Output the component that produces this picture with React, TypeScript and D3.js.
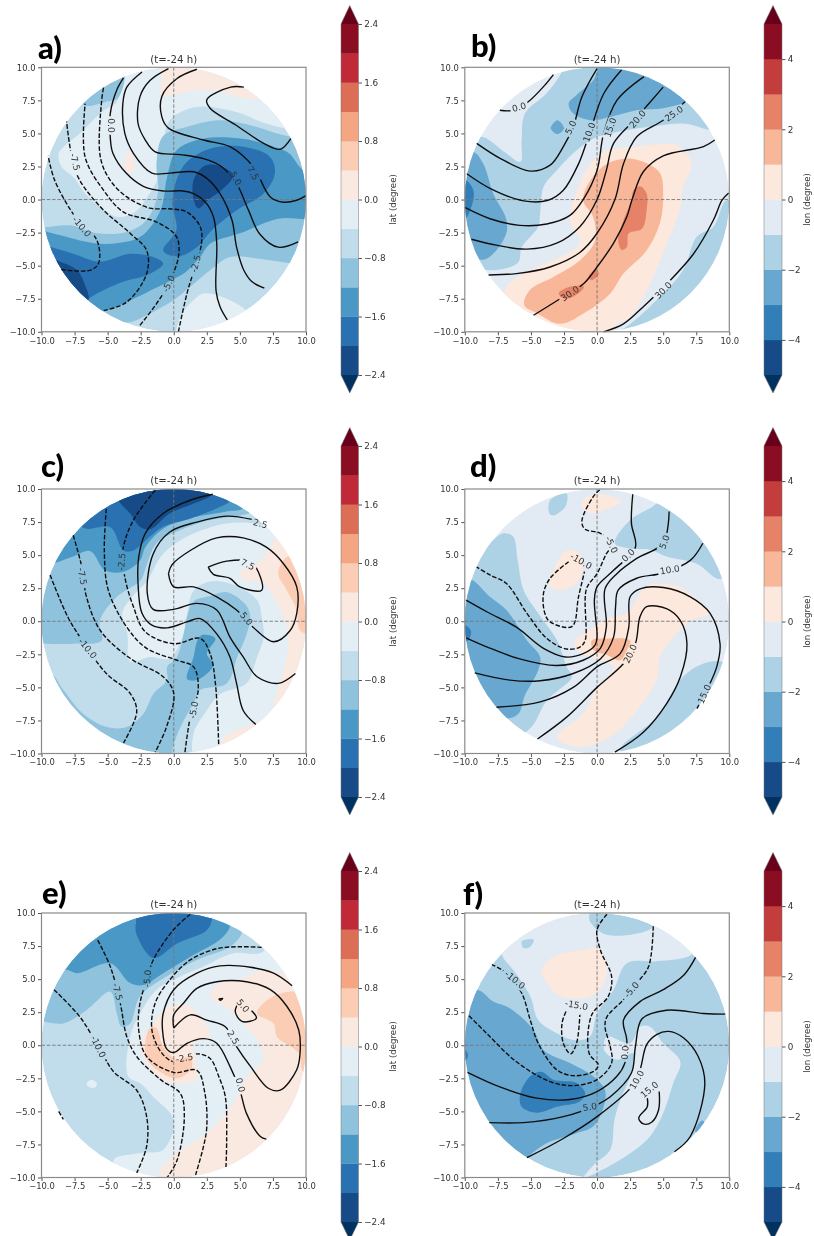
import React, { useEffect, useRef } from 'react';
import * as d3 from 'd3';

type Pt = [number, number];
type Fill = [number, Pt[]];
type Curve = [number, Pt[]];
type Label = [string, number, number, number];

// colour levels
const latLevels = [-2.4, -2.0, -1.6, -1.2, -0.8, -0.4, 0, 0.4, 0.8, 1.2, 1.6, 2.0, 2.4];
const latColors = ['#134b87', '#2a71b2', '#4a98c5', '#8fc2dd', '#c1ddec', '#e4eef5', '#f9e9e1', '#fccdb5', '#f4a683', '#dc6e57', '#c02b38', '#8a0b24'];
const lonLevels = [-5, -4, -3, -2, -1, 0, 1, 2, 3, 4, 5];
const lonColors = ['#134b87', '#337eb8', '#67a8d0', '#add1e5', '#e2ebf4', '#fce8dc', '#f8b799', '#e58267', '#c43c3c', '#8a0b24'];
const latTicks = [-2.4, -1.6, -0.8, 0, 0.8, 1.6, 2.4];
const lonTicks = [-4, -2, 0, 2, 4];
const axisTicks = [-10, -7.5, -5, -2.5, 0, 2.5, 5, 7.5, 10];

// panel a
const aBase = -0.6;
const aFill: Fill[] = [
  [-0.2, [[-3.8, 9.15], [-4.3, 7.4], [-5.2, 6.8], [-6.1, 6], [-7.1, 5], [-8.1, 4.2], [-8.7, 3.5], [-8.5, 2.5], [-7.6, 1.7], [-6.7, 0.45], [-5.6, -0.55], [-4.3, -1.3], [-3, -1], [-2, 0.2], [-1.15, 1.7], [-0.8, 4.2], [-0.3, 6], [1.7, 7], [4.8, 6.6], [6.8, 5.8], [8.8, 5.3], [11, 5], [8, 11], [-3, 11]]],
  [-0.2, [[0.3, -10.5], [0.5, -8.9], [1.5, -7.6], [2.25, -7.1], [4, -7.5], [5.5, -8.4], [7, -10.5]]],
  [0.2, [[-0.9, 11], [-0.9, 9.4], [-0.9, 7.8], [0.25, 8], [2.75, 8.3], [5.5, 7.65], [6.5, 7.65], [8, 9], [6, 11]]],
  [0.2, [[-3.7, 2.3], [-3.4, 3.6], [-3.1, 3.3], [-3.1, 2]]],
  [-1.0, [[-7.5, 8], [-6.7, 7.1], [-5.1, 7.4], [-4.3, 7.6], [-3.7, 9.2], [-4, 10.5], [-7, 9]]],
  [-1.0, [[-11, -2], [-9.9, -2.1], [-7.85, -1.95], [-5.8, -2.55], [-3.55, -2.45], [-2.05, -1.55], [-1.2, 0.5], [-1.3, 2.8], [-0.8, 4.8], [1, 5.5], [3.4, 6], [5.5, 5.7], [7.8, 5], [9, 4.7], [11, 4], [11, -4.85], [9.3, -4.85], [6.3, -4.45], [4.25, -4.35], [2.75, -5.35], [1.25, -6.6], [0, -7.6], [-2.05, -8.75], [-3.5, -9.3], [-4.8, -8.9], [-8, -8], [-11, -5]]],
  [-1.4, [[-11, -2.2], [-9, -2.6], [-6, -3.3], [-4.3, -3.3], [-2.5, -2.8], [-1, -0.8], [-0.5, 1.7], [0.2, 3.7], [2.2, 4.6], [5.2, 4.6], [7.2, 4.1], [8.7, 3.5], [9.5, 2.5], [11, 1], [11, -1.3], [7.9, -1.45], [5, -2.55], [2.75, -3.35], [2, -4.35], [1, -5.4], [0.2, -5.9], [-2, -7], [-3.5, -7.7], [-5.3, -8.4], [-8, -8], [-11, -5]]],
  [-1.8, [[-0.8, -3.85], [0.3, -4.3], [1.75, -3.6], [2.9, -2.3], [4.75, -0.8], [6.8, 0.45], [7.65, 2], [7.3, 3.2], [5.3, 4], [2.75, 3.85], [1, 2.85], [0.2, 1.45], [-0.1, -0.3], [0.2, -2.3]]],
  [-1.8, [[-11, -3.2], [-10, -3.4], [-7.6, -4.1], [-5.6, -4.7], [-3.3, -4.1], [-1.55, -4.35], [-0.8, -4.85], [-2, -5.7], [-3.8, -6.2], [-5.8, -7.1], [-6.6, -7.6], [-8, -8.5], [-11, -6]]],
  [-2.2, [[1.5, 1.45], [2.25, 2.5], [3.25, 2.6], [4.5, 1.85], [3.6, 0.7], [2.75, 0.1], [1.85, -0.65], [1.5, 0]]],
  [-2.2, [[-9, -4.6], [-8.6, -4.7], [-7.3, -5.35], [-6.7, -6.5], [-6.45, -7.6], [-7.5, -8.5], [-9.5, -7]]],
];
const aLines: Curve[] = [
  [0, [[-3.8, 9.2], [-4.3, 8.3], [-4.8, 6.5], [-4.8, 4.7], [-4.6, 3.5], [-3.6, 2], [-2.3, 1], [-0.8, 0.65], [0.7, 0.65], [1.5, 0.45], [2.4, -0.2], [3, -1.3], [3.25, -3.3], [3.2, -6.9], [3.5, -8.1], [4.05, -9.1]]],
  [2.5, [[-2.4, 9.65], [-3.55, 8.5], [-3.85, 7.25], [-3.7, 5], [-3.05, 3.5], [-1.65, 2], [-0.3, 2], [1.5, 2.1], [2.5, 1.6], [3.5, 0.45], [4.4, -1.55], [4.75, -3.6], [5.3, -5.35], [5.9, -6.2], [6.85, -6.7]]],
  [5, [[-0.4, 9.9], [-1.8, 9], [-2.55, 7.8], [-2.7, 5.75], [-2.15, 4.5], [-1.4, 3.6], [0.5, 3.4], [2.25, 3.1], [3.6, 2.5], [4.75, 1.2], [5.65, -0.8], [6.5, -2.6], [7.9, -3.6], [9.4, -3.2]]],
  [7.5, [[1.75, 9.85], [0.25, 9.15], [-0.9, 7.8], [-0.9, 6.25], [-0.4, 5.4], [2.25, 4.5], [4.25, 4], [6, 2.5], [7.3, 0.2], [8.3, -0.2], [9.3, -0.05], [10, 0.3]]],
  [10, [[5.3, 8.5], [4.3, 8.5], [2.5, 7.55], [2.75, 6.9], [4.75, 5.6], [6.8, 4.25], [8.05, 3.8], [8.85, 4.6]]],
  [-2.5, [[0.35, -10], [1, -7.1], [1.6, -5.1], [2.1, -3.3], [2, -2.05], [1, -0.95], [-0.3, -0.7], [-1.8, -0.65], [-3.55, 0.2], [-4.8, 1.45], [-5.55, 3.2], [-5.45, 7.5], [-5.3, 8.5]]],
  [-5, [[-2.55, -9.5], [-0.8, -7.1], [0.35, -4.35], [0.2, -2.8], [-1.3, -1.7], [-3.8, -0.95], [-5.3, 0.7], [-6.7, 3.2], [-6.7, 7.25]]],
  [-7.5, [[-5.3, -8.4], [-3.55, -7.75], [-2.05, -5.6], [-2.05, -3.85], [-3.3, -2.55], [-5.55, -0.55], [-7.35, 1.95], [-8.1, 5.9]]],
  [-10, [[-8.5, -5.3], [-6.35, -5.35], [-5.7, -4.85], [-5.8, -3.1], [-7.45, -1.3], [-9, 1.45], [-9.5, 3.3]]],
];
const aLabels: Label[] = [
  ['0.0', -4.75, 5.6, 90], ['-7.5', -7.45, 2.85, 75], ['-10.0', -6.95, -2.05, 50], ['-5.0', -0.4, -6.35, -65],
  ['-2.5', 1.65, -4.85, -75], ['5.0', 4.7, 1.6, 60], ['7.5', 6, 2, 60],
];

// panel b
const bBase = -0.5;
const bFill: Fill[] = [
  [-1.5, [[-8.85, 4.75], [-7, 3.6], [-5.8, 2.85], [-5.7, 4.5], [-5.45, 6.5], [-3.85, 8], [-2.8, 9.4], [-2, 11], [9, 11], [11, 6], [8.9, 5.25], [6.55, 5.75], [4, 5.5], [1.5, 5.1], [-0.3, 4.6], [-1.8, 3.5], [-3.05, 2.2], [-4.05, 0.95], [-4.3, -1.05], [-4.45, -2.05], [-5.7, -3.6], [-6, -4.8], [-8.6, -5.3], [-11, -4], [-11, 3]]],
  [-1.5, [[0.5, -10.5], [2.25, -9.6], [4.5, -7.6], [6.5, -5.35], [7.55, -2.8], [8.8, -2.05], [9.8, -0.05], [11, -1], [11, -11]]],
  [-2.5, [[-2.15, 7.25], [-1.55, 7.9], [-0.3, 9], [0, 9.65], [0.5, 10.5], [5, 10], [7.5, 8], [6.65, 7.35], [5, 6.9], [3, 6.75], [1, 6.25], [-0.5, 6], [-1.8, 6.5]]],
  [-2.5, [[-3.5, 5.4], [-3, 6], [-2.5, 5.4], [-3, 4.95]]],
  [-2.5, [[-9.35, 3.6], [-8.6, 2.7], [-7.85, 0.45], [-6.85, -1.55], [-6.95, -2.8], [-8.6, -4.55], [-11, -3], [-11, 3]]],
  [-3.5, [[-10, 1.45], [-9.35, 0.7], [-9.5, -0.55], [-10, -1.45], [-11, 0]]],
  [0.5, [[-7, -6.85], [-5.55, -5.6], [-2.8, -4.35], [-1.3, -3.3], [-2.05, -1.55], [-1.5, 0.7], [-0.5, 2.7], [0.75, 3.7], [3, 4], [6, 4.1], [7.15, 2.7], [6.5, 0.95], [6.3, -0.55], [5.3, -3.3], [4, -6.35], [2.5, -8.9], [1.5, -9.4], [0.5, -10.5], [-3, -10.5], [-7, -9]]],
  [1.5, [[-5.5, -8], [-5.1, -6.85], [-3.3, -5.85], [-1.3, -4.6], [-0.15, -3.1], [-0.3, -1.3], [-1.05, -0.05], [-0.5, 1.45], [0.75, 2.7], [2.25, 3.1], [3.5, 2.85], [4.75, 2], [5, 0.2], [4.75, -1.8], [3.75, -3.85], [2, -5.6], [1, -7.1], [-1, -8.6], [-2.8, -9.4], [-4.55, -8.6]]],
  [2.5, [[3.25, 1], [3.75, 0.45], [3.75, -0.8], [3.4, -2.2], [2.4, -2.55], [2.25, -3.6], [1.85, -3.8], [1.6, -2.95], [2, -1.55], [2.6, -0.05], [2.75, 0.7]]],
  [2.5, [[-0.65, -5.85], [-0.15, -5.35], [0.15, -5.6], [-0.4, -6.1]]],
  [2.5, [[-2.9, -7.1], [-2.05, -6.6], [-1, -6.6], [-1.4, -7.1], [-2.4, -7.5]]],
];
const bLines: Curve[] = [
  [0, [[-7.35, 6.75], [-6.35, 6.75], [-5.2, 7.4], [-3.95, 8.65], [-3.3, 9.45]]],
  [5, [[-9.1, 4.25], [-7.3, 3.1], [-5.05, 2.15], [-3.55, 2.6], [-2.55, 4], [-1.8, 5.5], [-1.15, 7.75], [0, 9.9]]],
  [10, [[-9.85, 1.95], [-8.1, 0.85], [-5.55, -0.1], [-3.7, -0.05], [-2.55, 0.7], [-1.4, 2.7], [-0.65, 4.75], [0.5, 8], [1.85, 9.8]]],
  [15, [[-10, -0.6], [-8.1, -1.45], [-5.85, -1.95], [-3.8, -1.85], [-2.05, -1.2], [-1.05, 0], [0, 2.2], [0.5, 5], [1.5, 7.5], [3.55, 9.3]]],
  [20, [[-9.5, -3], [-7.6, -3.45], [-5.3, -3.75], [-3.05, -3.3], [-1.3, -2.05], [0, 0], [0.7, 2.2], [1.25, 4.25], [2.9, 6.1], [5, 8.5]]],
  [25, [[-8.2, -5.7], [-6.1, -5.6], [-3.55, -5.1], [-1.3, -4], [0, -2.55], [1.35, 0], [2, 2.7], [3, 4.75], [5, 6], [6.65, 7.4]]],
  [30, [[-4.8, -8.75], [-2.55, -7.35], [-1, -6.35], [0, -5.1], [1.25, -3.3], [2.25, -1.3], [2.65, 0], [3.5, 2.1], [5, 3.3], [8.05, 4], [8.9, 4.5]]],
  [30, [[0.5, -10], [2, -9.4], [3.5, -8.1], [5.3, -6.35], [7.3, -4.1], [8.8, -1.55], [9.45, -0.05], [9.95, 0.5]]],
];
const bLabels: Label[] = [
  ['0.0', -5.9, 7, -15], ['5.0', -2, 5.45, -65], ['10.0', -0.6, 5.1, -70], ['15.0', 1, 5.45, -70],
  ['20.0', 3.05, 6.1, -50], ['25.0', 5.8, 6.5, -35], ['30.0', -2.05, -7.1, -35], ['30.0', 5, -6.85, -45],
];

// panel c
const cBase = -0.6;
const cFill: Fill[] = [
  [-1.0, [[-11, -1.7], [-9.85, -1.7], [-7.6, -1.7], [-5.45, -1.45], [-5.6, 0], [-4.3, 1.85], [-2.5, 3.1], [-2.1, 4.1], [-1.3, 5.9], [0.5, 6.9], [2.75, 7.65], [5.3, 8.05], [6.3, 8.5], [6, 11], [-11, 11]]],
  [-0.2, [[-3.9, 0.6], [-3, 2], [-2.05, 3], [-0.8, 5.1], [1, 6.4], [4, 7.4], [6.8, 7.25], [9, 6], [11, 4], [11, -6], [7.3, -11], [1.7, -10.5], [1.5, -8.5], [2.5, -6.75], [3.5, -5.5], [5.5, -4.7], [6.3, -2.7], [6.8, -1.2], [6.65, 0.3], [6.3, 1.6], [4.25, 2.85], [2.75, 3], [1.5, 2.3], [1, 0.5], [0.75, -0.95], [-0.3, -2.8], [-1.8, -2.7], [-3.3, -3.05], [-3.5, -1]]],
  [-1.0, [[-11, -5], [-9.35, -3.95], [-8.35, -5.2], [-6.85, -7], [-5.05, -8], [-3.55, -8], [-2.3, -7], [-1.55, -5.5], [-0.5, -4.45], [-0.5, -3.45], [0.2, -2.8], [0.75, -0.95], [1, 0.3], [1.5, 1.5], [2.75, 1.9], [4, 2.2], [5.4, 1.3], [5.8, 0.3], [5.5, -1], [4.8, -2.7], [4, -4.7], [2, -5.2], [1.5, -6.2], [0.75, -7.5], [0, -9.25], [-0.5, -11], [-6, -11]]],
  [-1.4, [[-11, 4], [-9, 4.4], [-7.6, 4.9], [-6.3, 5.3], [-5.2, 3.85], [-3.8, 3.75], [-2.55, 4.6], [-2.15, 5.6], [-0.8, 7], [1.25, 7.8], [4, 8.3], [5.3, 8.6], [5.5, 11], [-11, 11]]],
  [-1.8, [[-6.9, 7.1], [-4.8, 7.1], [-3.8, 5.35], [-3.05, 5.35], [-1.8, 6.4], [-0.8, 7.15], [1.25, 7.75], [3.5, 8.65], [4.2, 9.1], [4, 11], [-8, 11]]],
  [-2.2, [[-4.2, 9.15], [-3.3, 8.15], [-2.55, 7.15], [-1.8, 6.95], [-0.3, 8.15], [1.5, 8.9], [2.9, 9.65], [2.5, 11], [-5, 11]]],
  [-1.4, [[2.1, -1.05], [3.15, -1.3], [2.5, -2.45], [3, -3.3], [1.75, -4.45], [1, -4.35], [1.5, -2.7], [1.75, -1.55]]],
  [0.2, [[5, 3.7], [6.3, 4.35], [7.3, 5.6], [7.8, 6.65], [8, 8], [11, 7], [11, -8], [5, -11], [3.6, -9.25], [4, -8.6], [4.75, -8.25], [6.3, -7.6], [7.3, -6.75], [8, -4.7], [8.55, -2.7], [8.55, -0.45], [7.8, 1.35], [6.8, 2.85], [5.25, 3.2]]],
  [0.6, [[8.55, 4.85], [7.9, 3.6], [8.4, 2.6], [9.3, 0.85], [9.55, -0.7], [11, -1], [11, 5]]],
];
const cLines: Curve[] = [
  [0, [[2.95, 9.6], [1.25, 9.15], [-0.8, 8.15], [-2.15, 6.65], [-2.65, 4.85], [-2.7, 2.85], [-2.4, 0.6], [-1.65, -0.3], [-0.5, -0.5], [1, -0.05], [2, 0.2], [3.25, -0.95], [4.25, -2.7], [4.75, -4.7], [5.25, -6.75], [6.2, -7.8]]],
  [2.5, [[5.9, 7.7], [4, 7.95], [1.75, 7.5], [-0.3, 6.75], [-1.55, 5.1], [-2, 2.1], [-1.55, 0.9], [0, 0.9], [1.75, 1.35], [3.25, 0.85], [4.25, -1.2], [5.25, -2.7], [6.3, -4.2], [7.9, -4.7], [9.2, -3.95]]],
  [5, [[-0.4, 3.6], [-0.15, 4.25], [1.25, 5.35], [3.25, 6.3], [5.25, 6.3], [7, 5.6], [8.3, 4.35], [9.3, 2.6], [9.3, 0.6], [8.8, -0.7], [7.55, -1.55], [6, -0.45], [4.75, 0.85], [3.25, 1.85], [1.5, 2.6], [0, 2.6], [-0.4, 3.6]]],
  [7.5, [[2.6, 4.1], [4, 4.55], [5.8, 4.5], [6.55, 3.35], [6.65, 2.35], [5, 2.6], [4.25, 3.25], [3, 3.55], [2.6, 4.1]]],
  [-2.5, [[-1.4, 9.9], [-3.05, 7.65], [-3.85, 5.35], [-3.7, 3.35], [-3.05, 1.1], [-2.15, -0.8], [0, -1.7], [2, -1.3], [2.75, -2.45], [3.15, -4.7], [3.4, -9.4]]],
  [-5, [[-5.1, 8.5], [-5.25, 5.35], [-4.95, 2.35], [-3.55, -0.45], [-2.05, -2.05], [0.25, -2.95], [1.5, -3.45], [1.85, -5.2], [1.25, -7.25], [0.85, -9.9]]],
  [-7.5, [[-7.6, 6.5], [-6.95, 4.1], [-6.6, 1.85], [-5.55, -0.7], [-3.3, -2.8], [-0.8, -4.2], [0, -5.45], [-0.55, -8], [-1.4, -9.9]]],
  [-10, [[-9.35, 3.5], [-8, 0.3], [-6.85, -1.55], [-5.1, -3.95], [-3.3, -5.45], [-2.8, -6.85], [-3.8, -9.2]]],
];
const cLabels: Label[] = [
  ['2.5', 6.55, 7.4, 15], ['7.5', 5.6, 4.3, 25], ['5.0', 5.5, 0.2, 50], ['-2.5', -3.95, 4.5, -85],
  ['-7.5', -6.9, 3.4, 80], ['-10.0', -6.5, -2.05, 50], ['-5.0', 1.5, -6.7, -80],
];

// panel d
const dBase = -0.5;
const dFill: Fill[] = [
  [-1.5, [[-8.1, 5.9], [-7.1, 6.65], [-6.35, 6.4], [-6, 4.6], [-5.55, 2.35], [-4.45, 0.6], [-3, -1.5], [-2.3, -3.45], [-1.9, -4.2], [-3.8, -6], [-5.05, -8.1], [-7, -9], [-11, -5], [-11, 3]]],
  [-1.5, [[1.35, 5.9], [2.5, 7.65], [4.5, 8.9], [6, 11], [11, 5], [9.3, 3.2], [7.55, 4.35], [5.25, 4.9], [4, 5.4], [2.5, 5.5]]],
  [-1.5, [[-3.6, 8.15], [-3.55, 9.15], [-2.3, 9.65], [-2.4, 8.65], [-3.3, 8]]],
  [-1.5, [[1.75, -9.8], [4.5, -7.25], [6.5, -4.2], [8.05, -3.2], [9.45, -3.05], [11, -4], [5, -11]]],
  [-2.5, [[-9.6, 3.2], [-8.1, 1.85], [-6.85, 0.85], [-5.3, -1.45], [-4.3, -2.7], [-4.45, -3.7], [-5.45, -5.6], [-5.95, -7], [-6.85, -7.35], [-11, -6], [-11, 3]]],
  [-3.5, [[-10, -0.3], [-9.55, -0.7], [-9.6, -1.2], [-9.9, -1.55], [-11, -0.9]]],
  [0.5, [[-1.15, 8.65], [-0.8, 9.4], [0.75, 9.55], [1.85, 9], [0.75, 8.5], [-0.5, 8.15]]],
  [0.5, [[-3.55, 2.6], [-3.3, 3.85], [-2.3, 5.35], [-1.4, 5.1], [-1.05, 4.1], [-1.55, 2.85], [-2.8, 2.35]]],
  [0.5, [[-1.65, -1.45], [-0.8, -0.8], [0.5, 0.1], [2.25, 0.6], [3.1, 1.85], [3.75, 2.7], [6, 2.7], [7.3, 1.85], [8.55, 0.6], [7.05, 0.05], [5.8, -1.2], [4.75, -2.7], [4.5, -4.45], [3, -6.75], [1, -8.75], [-1.55, -9.5], [-3.05, -8.75], [-1.05, -7], [0, -5], [1.25, -3.45], [-0.5, -2.7], [-1.55, -2.2]]],
  [1.5, [[-0.4, -1.45], [0.75, -1.3], [2.5, -1.45], [2.25, -2.2], [1.75, -2.95], [0.75, -2.55], [-0.25, -2.2]]],
];
const dLines: Curve[] = [
  [0, [[2.7, 9.6], [2.6, 7.4], [2.9, 5.6], [1.25, 3.85], [0, 2.6], [-0.2, 1.6], [0, -1.2], [-0.15, -1.8], [-1.05, -2.45], [-2.4, -2.7], [-4.05, -2.05], [-6.1, -0.45], [-8.3, 0.7], [-9.9, 1.6]]],
  [5, [[5.45, 8.3], [5, 5.9], [3, 4.75], [1.5, 3.6], [0.6, 2.45], [0.7, -0.45], [0.25, -2.05], [-1.05, -2.95], [-3.05, -3.35], [-5.85, -2.85], [-8.3, -1.95], [-9.9, -1.25]]],
  [10, [[8, 5.9], [7.05, 4.6], [5, 3.65], [3, 3.25], [1.6, 2.35], [1.4, 1.1], [1.25, -1.2], [0.25, -2.85], [-1.8, -3.95], [-4.3, -4.5], [-6.6, -4.45], [-9.25, -3.9]]],
  [15, [[-7.6, -6.5], [-4.3, -6.1], [-1.8, -5], [0, -3.45], [1.75, -2.45], [2.4, -0.45], [2.5, 1.85], [3.25, 2.45], [5, 2.55], [7.05, 1.85], [8.55, 0.6], [9.3, -1.7], [9.05, -3.45], [8.3, -5.2], [7.55, -6.6]]],
  [20, [[-4.5, -8.9], [-2.3, -7.25], [0, -5], [2, -3.2], [2.9, -1.7], [3.25, 0.35], [3.75, 1.1], [5.25, 0.95], [6.3, 0.05], [6.8, -1.7], [6.3, -4.2], [5.25, -6.25], [3.5, -8.4], [1.35, -9.9]]],
  [-5, [[0.2, 9.95], [-0.3, 9.4], [-1.15, 7.55], [-0.9, 6.95], [0.25, 6.65], [1.1, 5.75], [0.7, 5.1], [0, 3.6], [-0.8, 2.45], [-0.9, -1.45], [-1.3, -1.95], [-2.3, -2.1], [-3.8, -1.3], [-5.3, 0.6], [-6.85, 2.85], [-8.1, 3.5], [-9.1, 4.1]]],
  [-10, [[-2.15, 4.5], [-3.55, 3.25], [-4.05, 2.1], [-3.95, 0.6], [-3.55, -0.05], [-1.9, -0.4], [-1.4, 1.85], [-0.95, 3.75]]],
];
const dLabels: Label[] = [
  ['-5.0', 1.1, 5.8, 65], ['0.0', 2.35, 5, -45], ['5.0', 5.1, 6, -70], ['10.0', 5.5, 3.9, -10],
  ['-10.0', -1.2, 4.55, 30], ['20.0', 2.5, -2.45, -65], ['15.0', 8.1, -5.5, -65],
];

// panel e
const eBase = -0.6;
const eFill: Fill[] = [
  [-0.2, [[-3.45, -2.35], [-3.3, 0.65], [-2.55, 2.4], [-1.3, 4.2], [0.5, 5.2], [2.25, 5.95], [4.5, 6.95], [6.5, 6.95], [8, 8], [11, 5], [11, -11], [-3, -11], [-4.55, -8.7], [-2.55, -8.15], [-0.8, -7.9], [0, -5.65], [-1.55, -3.9], [-2.5, -2.9]]],
  [-0.2, [[-6.6, -2.9], [-6.2, -2.6], [-5.8, -2.9], [-5.95, -3.2], [-6.4, -3.15]]],
  [-1.0, [[-9.85, 1.8], [-8.35, 1.65], [-6.6, 2.65], [-4.8, 4.05], [-4.3, 2.4], [-3.95, 1.4], [-3.3, 1.65], [-2.55, 3.7], [-0.55, 5.2], [1.75, 6.45], [4.25, 7.45], [5.15, 8.5], [5, 11], [-11, 11], [-11, 2]]],
  [-1.4, [[-9, 5.6], [-8.1, 5.7], [-7.3, 5.45], [-4.8, 6.2], [-3.3, 4.7], [-2.3, 4.55], [-0.8, 5.45], [1.25, 6.7], [3.5, 8], [4.25, 9], [4, 11], [-9, 11]]],
  [-1.8, [[-2.85, 9.5], [-2.85, 8.5], [-1.55, 6.6], [0.25, 7.7], [2.5, 8.7], [2.9, 9.5], [3, 11], [-3, 11]]],
  [0.2, [[-1.15, -9.7], [0.25, -8.15], [2.5, -6.65], [4.5, -4.4], [5.5, -2.4], [6.8, -1.1], [6.3, 0.4], [5.25, 1.65], [4.25, 2.65], [2.75, 3.7], [3.5, 4.7], [5, 5], [6.8, 5.7], [9.05, 5.2], [11, 5], [11, -11], [-1, -11]]],
  [0.2, [[-2.5, 0.2], [-1.55, 1.65], [-0.55, 2.8], [1, 3.05], [2.5, 1.4], [2.75, 0.65], [1.5, 0.15], [1.75, -1.6], [1.75, -2.6], [0.2, -2.9], [-1.3, -2.35], [-2.3, -0.85]]],
  [0.6, [[-2.15, 0.15], [-1.8, 1.3], [-1.3, 1.3], [-0.8, -0.1], [0.25, -1.1], [1.25, -0.85], [1.35, -1.75], [0.25, -2.5], [-1.05, -2], [-2.05, -1]]],
  [0.6, [[6.3, 2.4], [7.05, 3.4], [9.05, 4.05], [11, 3], [11, -2], [9.8, -2], [9.45, -0.6], [7.8, 0.65], [7.55, 1.65]]],
];
const eLines: Curve[] = [
  [0, [[8.95, 4.5], [7.55, 5.45], [5.8, 5.9], [3.5, 6], [1.75, 5.45], [0, 4.2], [-0.8, 2.4], [-0.85, 1.15], [-0.55, -0.25], [0, -0.55], [1, 0.15], [2.25, 0.5], [3.25, 0.15], [4.25, -1.6], [5, -3.4], [5.5, -5.15], [6.55, -6.9], [7, -7.1]]],
  [2.5, [[0, 1.3], [0, 2.3], [0.75, 3.2], [1.75, 4.3], [3.25, 4.8], [5.5, 4.8], [7.3, 4.2], [8.55, 2.95], [9.45, 1.15], [9.55, -0.6], [9.3, -1.85], [8.05, -3.4], [7.15, -3.25], [5.8, -1.6], [4.75, -0.1], [3.9, 1.4], [2.5, 1.9], [1.25, 2.3], [0, 1.3]]],
  [5, [[4.9, 3.2], [4.65, 2.55], [5.15, 1.8], [6.25, 2.05], [5.5, 2.95], [4.9, 3.2]]],
  [5, [[3.4, 3.5], [3.7, 3.55], [3.55, 3.4], [3.4, 3.5]]],
  [-2.5, [[6.65, 7.4], [5, 7.45], [3.25, 7.3], [1.25, 6.45], [-0.3, 4.95], [-1.4, 3.2], [-1.65, 1.15], [-0.9, -0.6], [0, -1.25], [0.8, -1], [1.75, -0.65], [2.75, -1], [3.4, -2.35], [3.9, -3.9], [4, -7.15], [3.95, -9.2]]],
  [-5, [[1.25, 9.9], [0, 8.75], [-1.55, 6.45], [-2, 5.05], [-2.55, 3.2], [-2.65, 1.15], [-2.05, -0.85], [0, -2.05], [1.75, -1.9], [2.35, -3.6], [2.5, -6.15], [2.25, -7.65], [1.65, -9.8]]],
  [-7.5, [[-5.75, 7.95], [-4.8, 5.95], [-4.05, 3.2], [-3.55, 0.65], [-2.8, -0.85], [-1, -2.6], [0.5, -3.65], [0.8, -5.4], [0.25, -8.7], [-0.5, -10]]],
  [-10, [[-9.05, 4.2], [-7.1, 2.15], [-5.55, -0.35], [-4.55, -2], [-2.8, -3.4], [-2.05, -5.4], [-2.05, -7.65], [-2.8, -9.65]]],
  [-10, [[-8.7, -5], [-8.35, -5.6]]],
];
const eLabels: Label[] = [
  ['5.0', 5.25, 3, 50], ['-2.5', 0.8, -0.95, -10], ['2.5', 4.5, 0.6, 60], ['0.0', 5.05, -3, 75],
  ['-5.0', -2, 5.05, -85], ['-7.5', -4.25, 4.05, 75], ['-10.0', -5.7, -0.1, 65],
];

// panel f
const fBase = -1.5;
const fFill: Fill[] = [
  [-0.5, [[-7.2, 6.85], [-6.35, 5.7], [-5.05, 3.7], [-4.45, 1.9], [-3.05, 0.9], [-1.8, 0.4], [-0.55, 0.65], [0, 2.4], [1.25, 4.2], [2.25, 6.2], [4.5, 6.35], [7.15, 6.85], [8, 8], [6, 9], [4.4, 9.3], [4, 8.75], [0.75, 8.35], [-0.55, 9.4], [-0.6, 11], [-8, 11]]],
  [-0.5, [[0.5, -0.1], [0.75, 0.65], [2.5, 0.15], [3.25, 1.4], [4, 1.4], [5, 0.15], [6.3, -1.25], [5.75, -2.9], [5, -5.15], [4, -6.9], [2, -8.5], [-1, -10], [-0.2, -9], [1, -7.9], [1.3, -5.7], [1.75, -4.15], [2.5, -2.35], [2.75, -0.6], [1.5, -1.1], [0.6, -0.5]]],
  [-1.5, [[-5.7, 7.85], [-4.8, 8], [-5.05, 7.45], [-5.55, 7.35]]],
  [-2.5, [[-9.1, 4.2], [-7.85, 3.3], [-6.6, 2.8], [-4.8, 1.15], [-4.05, -0.35], [-2.05, -1.35], [-0.3, -2.35], [0.6, -3.4], [0.5, -4.65], [-0.3, -6.15], [-1.55, -6.65], [-3.8, -7.4], [-5.3, -8.5], [-7, -10], [-11, -5], [-11, 3]]],
  [-2.5, [[7.4, -6.5], [7.9, -5.7], [8.1, -5.8], [7.7, -6.6]]],
  [-3.5, [[-5.8, -3.65], [-5.05, -2.35], [-4.2, -2], [-3.3, -2.6], [-1.55, -2.85], [-0.9, -3.65], [-1.3, -4.25], [-3.05, -4.65], [-4.55, -5.1], [-5.7, -4.65]]],
  [-3.5, [[-10, -0.35], [-9.75, -0.75], [-10, -1.2], [-11, -0.8]]],
  [0.5, [[-4.2, 5.7], [-3.3, 6.7], [-1.05, 7.2], [0, 7.35], [0.75, 5.95], [0.25, 4.2], [-1.05, 3.55], [-2.8, 3.7], [-3.8, 4.7]]],
];
const fLines: Curve[] = [
  [0, [[7.45, 6.65], [6.55, 5.3], [5, 4.2], [3.25, 3.3], [2, 1.9], [2.25, 0.4], [2.1, -1.35], [1.5, -2.35], [0, -3.5], [-2.05, -4.1], [-4.55, -4], [-7.35, -3.15], [-9.8, -2.05]]],
  [5, [[9.7, 2.35], [8.05, 2.4], [5.25, 2.65], [3.4, 2], [2.9, -0.1], [2.6, -2.1], [1, -3.9], [0, -4.5], [-2.55, -5.4], [-5.55, -5.85], [-8.15, -5.85]]],
  [10, [[5.85, -8.05], [7.05, -6.9], [8.15, -2.9], [7.65, -0.85], [6.55, 0.55], [5.4, 1.05], [4.5, 0.8], [3.75, 0.05], [3.25, -1.85], [2.6, -3.15], [0, -5.4], [-2.55, -7.05], [-5.3, -8.5]]],
  [15, [[3.8, -4], [3.8, -4.65], [3.15, -5.5], [3.5, -5.95], [4.15, -5.8], [4.65, -4.9], [4.7, -3.5]]],
  [-5, [[4.25, 9], [3.9, 5.95], [3, 4.7], [2, 3.45], [0.75, 2.15], [0.6, 1.4], [1, -0.1], [1.1, -1.35], [0, -2.6], [-1.8, -3.05], [-3.55, -2.75], [-6.1, -1.25], [-8.35, 0.9], [-9.75, 2.3]]],
  [-10, [[0.75, 9.9], [0, 8.75], [0.25, 7.2], [1.1, 5.2], [0.85, 3.7], [-0.4, 2.3], [-0.6, -0.6], [0.1, -1.5], [-0.3, -2], [-1.8, -2.3], [-3.05, -1.85], [-4.45, 0.15], [-5.05, 1.9], [-5.7, 3.95], [-6.85, 5.45], [-7.95, 6.1]]],
  [-15, [[-2.35, 2.55], [-2.65, 1.65], [-2.55, 0.15], [-2, -0.65], [-1.55, 0.15], [-1.3, 2.3]]],
];
const fLabels: Label[] = [
  ['-10.0', -6.2, 4.95, 40], ['-15.0', -1.55, 3.05, 10], ['-5.0', 2.6, 4.2, -50], ['0.0', 2.1, -0.55, -85],
  ['10.0', 3, -2.6, -60], ['15.0', 3.95, -3.35, -40], ['5.0', -0.55, -4.65, -10],
];

const AXIS_SIZE = 264.5;
const LEFT_X = 41.5;
const RIGHT_X = 464.8;
const ROW_Y = [67.3, 489, 913];
const BAR_OFFSET = [0, 422, 847];

const panels = [
  { id: 'a', letter: 'a)', x: LEFT_X, y: ROW_Y[0], lx: 38, ly: 59, kind: 'lat', base: aBase, fills: aFill, lines: aLines, labels: aLabels },
  { id: 'b', letter: 'b)', x: RIGHT_X, y: ROW_Y[0], lx: 471, ly: 57, kind: 'lon', base: bBase, fills: bFill, lines: bLines, labels: bLabels },
  { id: 'c', letter: 'c)', x: LEFT_X, y: ROW_Y[1], lx: 41, ly: 477, kind: 'lat', base: cBase, fills: cFill, lines: cLines, labels: cLabels },
  { id: 'd', letter: 'd)', x: RIGHT_X, y: ROW_Y[1], lx: 470, ly: 477, kind: 'lon', base: dBase, fills: dFill, lines: dLines, labels: dLabels },
  { id: 'e', letter: 'e)', x: LEFT_X, y: ROW_Y[2], lx: 42, ly: 904, kind: 'lat', base: eBase, fills: eFill, lines: eLines, labels: eLabels },
  { id: 'f', letter: 'f)', x: RIGHT_X, y: ROW_Y[2], lx: 463, ly: 905, kind: 'lon', base: fBase, fills: fFill, lines: fLines, labels: fLabels },
];

const minus = (s: string) => s.replace('-', '\u2212');

export default function App() {
  const svgRef = useRef<SVGSVGElement>(null);

  useEffect(() => {
    const svg = d3.select(svgRef.current);
    svg.selectAll('*').remove();

    const defs = svg.append('defs');
    defs.append('filter').attr('id', 'soft')
      .attr('filterUnits', 'userSpaceOnUse')
      .attr('x', 0).attr('y', 0).attr('width', 814).attr('height', 1236)
      .append('feGaussianBlur').attr('stdDeviation', 0.45);

    const root = svg.append('g').attr('filter', 'url(#soft)');
    root.append('rect').attr('width', 814).attr('height', 1236).attr('fill', '#fff');

    const latColor = d3.scaleThreshold<number, string>().domain(latLevels.slice(1, -1)).range(latColors);
    const lonColor = d3.scaleThreshold<number, string>().domain(lonLevels.slice(1, -1)).range(lonColors);

    panels.forEach((p, i) => {
      const x = d3.scaleLinear().domain([-10, 10]).range([0, AXIS_SIZE]);
      const y = d3.scaleLinear().domain([-10, 10]).range([AXIS_SIZE, 0]);
      const color = p.kind === 'lat' ? latColor : lonColor;
      const g = root.append('g').attr('transform', `translate(${p.x},${p.y})`);

      defs.append('clipPath').attr('id', `clip-${p.id}`).append('circle')
        .attr('cx', x(0)).attr('cy', y(0)).attr('r', x(10) - x(0));

      const fillLine = d3.line<Pt>().x(d => x(d[0])).y(d => y(d[1])).curve(d3.curveCatmullRomClosed.alpha(0.5));
      const strokeLine = d3.line<Pt>().x(d => x(d[0])).y(d => y(d[1])).curve(d3.curveCatmullRom.alpha(0.5));

      const fields = g.append('g').attr('clip-path', `url(#clip-${p.id})`);
      fields.append('circle').attr('cx', x(0)).attr('cy', y(0)).attr('r', x(10) - x(0)).attr('fill', color(p.base));
      fields.selectAll('path').data(p.fills).join('path')
        .attr('d', d => fillLine(d[1]))
        .attr('fill', d => color(d[0]));

      // center cross
      g.append('line').attr('x1', x(0)).attr('x2', x(0)).attr('y1', 0).attr('y2', AXIS_SIZE)
        .attr('stroke', '#777').attr('stroke-width', 0.9).attr('stroke-dasharray', '3.5 1.8');
      g.append('line').attr('y1', y(0)).attr('y2', y(0)).attr('x1', 0).attr('x2', AXIS_SIZE)
        .attr('stroke', '#777').attr('stroke-width', 0.9).attr('stroke-dasharray', '3.5 1.8');

      // contour labels cut the line through a mask
      const mask = defs.append('mask').attr('id', `gap-${p.id}`).attr('maskUnits', 'userSpaceOnUse')
        .attr('x', -10).attr('y', -10).attr('width', AXIS_SIZE + 20).attr('height', AXIS_SIZE + 20);
      mask.append('rect').attr('x', -10).attr('y', -10).attr('width', AXIS_SIZE + 20).attr('height', AXIS_SIZE + 20).attr('fill', '#fff');
      mask.selectAll('rect.cut').data(p.labels).join('rect').attr('class', 'cut')
        .attr('x', d => -d[0].length * 2.75 - 1).attr('y', -5)
        .attr('width', d => d[0].length * 5.5 + 2).attr('height', 10)
        .attr('fill', '#000')
        .attr('transform', d => `translate(${x(d[1])},${y(d[2])}) rotate(${d[3]})`);

      g.append('g').attr('mask', `url(#gap-${p.id})`)
        .selectAll('path').data(p.lines).join('path')
        .attr('d', d => strokeLine(d[1]))
        .attr('fill', 'none')
        .attr('stroke', '#111')
        .attr('stroke-width', 1.4)
        .attr('stroke-dasharray', d => (d[0] < 0 ? '4.6 1.9' : null));

      g.append('g').selectAll('text').data(p.labels).join('text')
        .attr('transform', d => `translate(${x(d[1])},${y(d[2])}) rotate(${d[3]})`)
        .attr('text-anchor', 'middle').attr('dy', '0.36em')
        .attr('font-family', 'DejaVu Sans').attr('font-size', 9).attr('fill', '#333')
        .text(d => d[0]);

      // axes
      const fmt = (d: d3.NumberValue) => minus(d3.format('.1f')(+d));
      const bottom = g.append('g').attr('transform', `translate(0,${AXIS_SIZE})`)
        .call(d3.axisBottom(x).tickValues(axisTicks).tickFormat(fmt).tickSize(3.5).tickPadding(2.5));
      const left = g.append('g')
        .call(d3.axisLeft(y).tickValues(axisTicks).tickFormat(fmt).tickSize(3.5).tickPadding(2.5));
      [bottom, left].forEach(a => {
        a.attr('font-family', 'DejaVu Sans').attr('font-size', 8.4);
        a.selectAll('text').attr('fill', '#333');
        a.selectAll('line').attr('stroke', '#555');
        a.select('.domain').remove();
      });
      g.append('rect').attr('width', AXIS_SIZE).attr('height', AXIS_SIZE)
        .attr('fill', 'none').attr('stroke', '#8a8a8a').attr('stroke-width', 1.2);

      g.append('text').attr('x', AXIS_SIZE / 2).attr('y', -4.8).attr('text-anchor', 'middle')
        .attr('font-family', 'DejaVu Sans').attr('font-size', 10.2).attr('fill', '#333')
        .text('(t=-24 h)');

      root.append('text').attr('x', p.lx).attr('y', p.ly)
        .attr('font-family', 'Lato').attr('font-weight', 900).attr('font-size', 31).attr('fill', '#000')
        .text(p.letter);

      // colorbar
      const row = Math.floor(i / 2);
      const levels = p.kind === 'lat' ? latLevels : lonLevels;
      const ticks = p.kind === 'lat' ? latTicks : lonTicks;
      const barX = p.kind === 'lat' ? 341 : 764;
      const barW = p.kind === 'lat' ? 17.5 : 18;
      const lo = levels[0];
      const hi = levels[levels.length - 1];
      const yBar = d3.scaleLinear().domain([lo, hi]).range([375 + BAR_OFFSET[row], 24 + BAR_OFFSET[row]]);
      const bar = root.append('g').attr('transform', `translate(${barX},0)`);
      bar.selectAll('rect').data(d3.pairs(levels)).join('rect')
        .attr('x', 0).attr('width', barW)
        .attr('y', d => yBar(d[1])).attr('height', d => yBar(d[0]) - yBar(d[1]) + 0.3)
        .attr('fill', d => color((d[0] + d[1]) / 2));
      bar.append('path')
        .attr('d', d3.line()([[0, yBar(hi)], [barW / 2, yBar(hi) - 18.5], [barW, yBar(hi)]]) + 'Z')
        .attr('fill', '#67001f');
      bar.append('path')
        .attr('d', d3.line()([[0, yBar(lo)], [barW / 2, yBar(lo) + 18], [barW, yBar(lo)]]) + 'Z')
        .attr('fill', '#053061');
      bar.append('path')
        .attr('d', d3.line()([[0, yBar(hi)], [barW / 2, yBar(hi) - 18.5], [barW, yBar(hi)], [barW, yBar(lo)], [barW / 2, yBar(lo) + 18], [0, yBar(lo)]]) + 'Z')
        .attr('fill', 'none').attr('stroke', '#777').attr('stroke-width', 0.5);
      const barAxis = bar.append('g').attr('transform', `translate(${barW},0)`)
        .call(d3.axisRight(yBar).tickValues(ticks)
          .tickFormat((d: d3.NumberValue) => minus(p.kind === 'lat' ? d3.format('.1f')(+d) : d3.format('d')(+d)))
          .tickSize(3.5).tickPadding(2.2));
      barAxis.attr('font-family', 'DejaVu Sans').attr('font-size', 8.8);
      barAxis.selectAll('text').attr('fill', '#333');
      barAxis.selectAll('line').attr('stroke', '#555');
      barAxis.select('.domain').remove();
      root.append('text')
        .attr('transform', `translate(${barX + barW + (p.kind === 'lat' ? 37.5 : 28)},${yBar(0)}) rotate(-90)`)
        .attr('text-anchor', 'middle').attr('font-family', 'DejaVu Sans').attr('font-size', 8.6).attr('fill', '#333')
        .text(p.kind === 'lat' ? 'lat (degree)' : 'lon (degree)');
    });
  }, []);

  return <svg ref={svgRef} width={814} height={1236} style={{ position: 'absolute', left: 0, top: 0 }} />;
}
